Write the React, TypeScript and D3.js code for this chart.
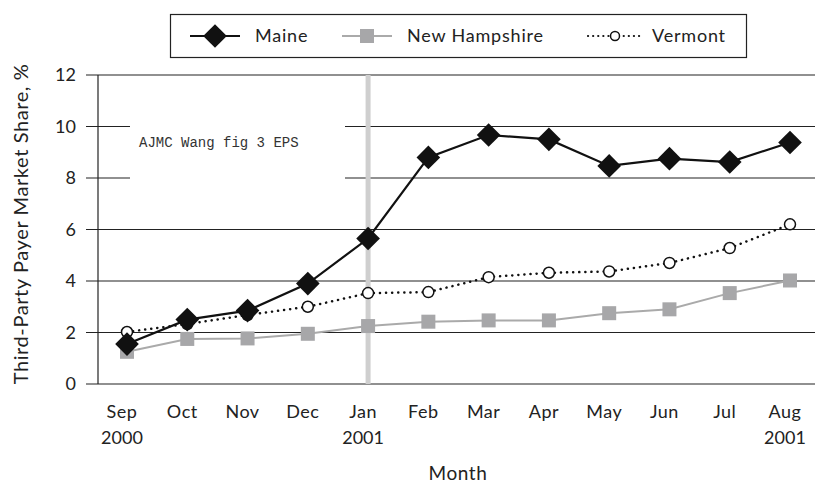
import React, { useRef, useEffect } from "react";
import * as d3 from "d3";

// Chart data
const months = ["Sep", "Oct", "Nov", "Dec", "Jan", "Feb", "Mar", "Apr", "May", "Jun", "Jul", "Aug"];
const yearLabels = ["2000", "", "", "", "2001", "", "", "", "", "", "", "2001"];
const maine = [1.55, 2.5, 2.85, 3.9, 5.65, 8.8, 9.67, 9.5, 8.47, 8.75, 8.62, 9.38];
const newHampshire = [1.25, 1.75, 1.77, 1.95, 2.25, 2.42, 2.47, 2.47, 2.75, 2.9, 3.53, 4.02];
const vermont = [2.02, 2.33, 2.68, 3.0, 3.53, 3.57, 4.15, 4.32, 4.37, 4.7, 5.28, 6.2];
const yTicks = [0, 2, 4, 6, 8, 10, 12];
const highlightMonth = "Jan";

const FONT = "Lato, 'Open Sans', sans-serif";

function App() {
    const svgRef = useRef(null);

    useEffect(() => {
        const w = 817;
        const h = 483;
        const svg = d3.select(svgRef.current)
            .attr("width", w)
            .attr("height", h);
        svg.selectAll("*").remove();

        const x = d3.scalePoint().domain(months).range([127, 790]);
        const y = d3.scaleLinear().domain([0, 12]).range([384, 75]);

        // gridlines with ticks
        svg.append("g")
            .selectAll("line")
            .data(yTicks)
            .join("line")
            .attr("x1", 86)
            .attr("x2", 815)
            .attr("y1", d => y(d))
            .attr("y2", d => y(d))
            .attr("stroke", "#222")
            .attr("stroke-width", 1.2);

        // y axis line
        svg.append("line")
            .attr("x1", 98).attr("x2", 98)
            .attr("y1", y(12)).attr("y2", y(0))
            .attr("stroke", "#222").attr("stroke-width", 1.2);

        // y tick labels
        svg.append("g")
            .selectAll("text")
            .data(yTicks)
            .join("text")
            .attr("x", 76)
            .attr("y", d => y(d) + 6)
            .attr("text-anchor", "end")
            .attr("font-family", FONT)
            .attr("font-size", 18)
            .attr("fill", "#222")
            .text(d => d);

        // annotation box
        svg.append("rect")
            .attr("x", 130).attr("y", 105)
            .attr("width", 215).attr("height", 85)
            .attr("fill", "#fff");
        svg.append("text")
            .attr("x", 139).attr("y", 147)
            .attr("font-family", "'Liberation Mono', 'DejaVu Sans Mono', monospace")
            .attr("font-size", 14)
            .attr("fill", "#333")
            .text("AJMC Wang fig 3 EPS");

        // highlight line at Jan 2001
        svg.append("line")
            .attr("x1", x(highlightMonth)).attr("x2", x(highlightMonth))
            .attr("y1", y(12)).attr("y2", y(0))
            .attr("stroke", "#cfcfcf").attr("stroke-width", 5);

        // x labels
        const xl = svg.append("g");
        xl.selectAll(".m")
            .data(months)
            .join("text")
            .attr("class", "m")
            .attr("x", d => x(d) - 5)
            .attr("y", 418)
            .attr("text-anchor", "middle")
            .attr("font-family", FONT)
            .attr("font-size", 18)
            .attr("letter-spacing", 0.5)
            .attr("fill", "#222")
            .text(d => d);
        xl.selectAll(".yr")
            .data(yearLabels)
            .join("text")
            .attr("class", "yr")
            .attr("x", (d, i) => x(months[i]) - 5)
            .attr("y", 444)
            .attr("text-anchor", "middle")
            .attr("font-family", FONT)
            .attr("font-size", 18)
            .attr("fill", "#222")
            .text(d => d);

        // axis titles
        svg.append("text")
            .attr("x", 458).attr("y", 480)
            .attr("text-anchor", "middle")
            .attr("font-family", FONT).attr("font-size", 19).attr("letter-spacing", 0.6).attr("fill", "#222")
            .text("Month");
        svg.append("text")
            .attr("transform", "translate(28, 224) rotate(-90)")
            .attr("text-anchor", "middle")
            .attr("font-family", FONT).attr("font-size", 20).attr("letter-spacing", 0.6).attr("fill", "#222")
            .text("Third-Party Payer Market Share, %");

        const line = d3.line().x((d, i) => x(months[i])).y(d => y(d));

        // New Hampshire
        svg.append("path").datum(newHampshire)
            .attr("d", line).attr("fill", "none")
            .attr("stroke", "#aaa").attr("stroke-width", 2);
        svg.append("g").selectAll("rect")
            .data(newHampshire).join("rect")
            .attr("x", (d, i) => x(months[i]) - 7)
            .attr("y", d => y(d) - 7)
            .attr("width", 14).attr("height", 14)
            .attr("fill", "#a7a7a9");

        // Vermont
        svg.append("path").datum(vermont)
            .attr("d", line).attr("fill", "none")
            .attr("stroke", "#111").attr("stroke-width", 2.5)
            .attr("stroke-dasharray", "0.1,6").attr("stroke-linecap", "round");
        svg.append("g").selectAll("circle")
            .data(vermont).join("circle")
            .attr("cx", (d, i) => x(months[i]))
            .attr("cy", d => y(d))
            .attr("r", 5.5)
            .attr("fill", "#fff").attr("stroke", "#111").attr("stroke-width", 1.5);

        // Maine
        svg.append("path").datum(maine)
            .attr("d", line).attr("fill", "none")
            .attr("stroke", "#111").attr("stroke-width", 2.2);
        const diamond = d3.symbol().type(d3.symbolSquare).size(280);
        svg.append("g").selectAll("path")
            .data(maine).join("path")
            .attr("d", diamond)
            .attr("transform", (d, i) => `translate(${x(months[i])},${y(d)}) rotate(45)`)
            .attr("fill", "#111");

        // Legend
        const lg = svg.append("g");
        lg.append("rect")
            .attr("x", 170.5).attr("y", 14.5)
            .attr("width", 576).attr("height", 43)
            .attr("fill", "#fff").attr("stroke", "#222").attr("stroke-width", 1.2);
        const ly = 36;
        const legendText = (tx, label) => lg.append("text").attr("x", tx).attr("y", ly + 6)
            .attr("font-family", FONT).attr("font-size", 18).attr("letter-spacing", 0.8)
            .attr("fill", "#222").text(label);
        // Maine entry
        lg.append("line").attr("x1", 190).attr("x2", 240).attr("y1", ly).attr("y2", ly)
            .attr("stroke", "#111").attr("stroke-width", 2.2);
        lg.append("path").attr("d", diamond)
            .attr("transform", `translate(215,${ly}) rotate(45)`).attr("fill", "#111");
        legendText(255, "Maine");
        // NH entry
        lg.append("line").attr("x1", 342).attr("x2", 392).attr("y1", ly).attr("y2", ly)
            .attr("stroke", "#aaa").attr("stroke-width", 2);
        lg.append("rect").attr("x", 360).attr("y", ly - 7).attr("width", 14).attr("height", 14)
            .attr("fill", "#a7a7a9");
        legendText(407, "New Hampshire");
        // VT entry
        lg.append("line").attr("x1", 588).attr("x2", 642).attr("y1", ly).attr("y2", ly)
            .attr("stroke", "#111").attr("stroke-width", 2.2)
            .attr("stroke-dasharray", "0.1,5").attr("stroke-linecap", "round");
        lg.append("circle").attr("cx", 615).attr("cy", ly).attr("r", 4.5)
            .attr("fill", "#fff").attr("stroke", "#111").attr("stroke-width", 1.5);
        legendText(652, "Vermont");
    }, []);

    return (
        <div style={{ position: "absolute", left: 0, top: 0, background: "#fff" }}>
            <svg ref={svgRef} style={{ display: "block" }}></svg>
        </div>
    );
}

export default App;
